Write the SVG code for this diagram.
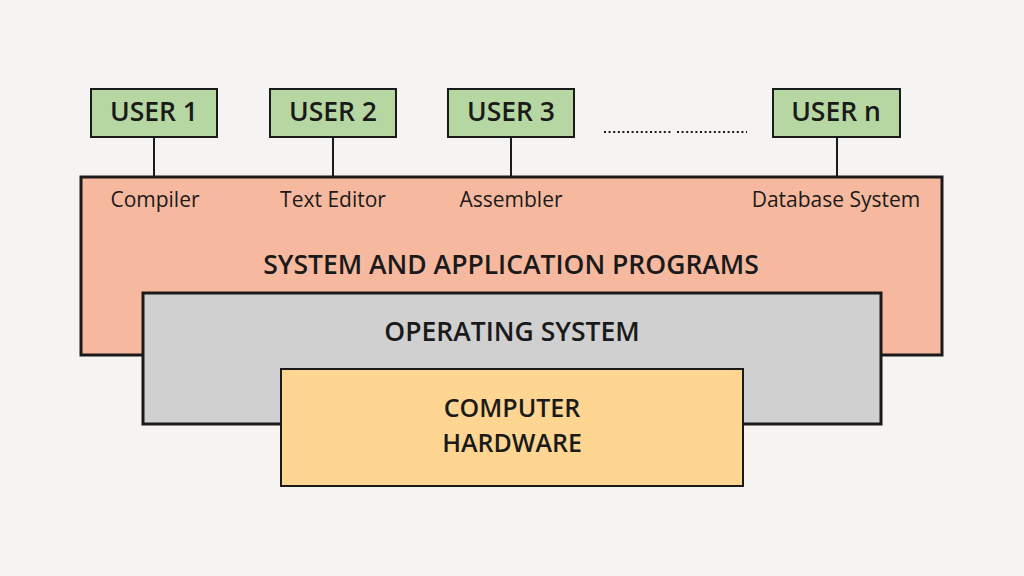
<svg xmlns="http://www.w3.org/2000/svg" width="1024" height="576" viewBox="0 0 1024 576">
<style>
.user{fill:#b6d7a1;stroke:#1a1a1a;stroke-width:2}
.t{font-family:"Open Sans","Liberation Sans",sans-serif;fill:#1a1a1a}
.b{font-weight:600;font-size:26.5px;text-anchor:middle}
.h{font-weight:600;font-size:26.5px;text-anchor:middle}
.hw{font-weight:600;font-size:25px;text-anchor:middle}
.l{font-size:21px;text-anchor:middle}
.conn{stroke:#1a1a1a;stroke-width:2;fill:none}
</style>
<rect width="1024" height="576" fill="#f5f4f2"/>
<g id="connectors">
<line class="conn" x1="154" y1="137" x2="154" y2="177"/>
<line class="conn" x1="333" y1="137" x2="333" y2="177"/>
<line class="conn" x1="511" y1="137" x2="511" y2="177"/>
<line class="conn" x1="837" y1="137" x2="837" y2="177"/>
</g>
<g id="apps">
<rect x="81" y="177" width="861" height="178" fill="#f6b99f" stroke="#1a1a1a" stroke-width="3"/>
<text class="t l" x="155" y="207">Compiler</text>
<text class="t l" x="333" y="207">Text Editor</text>
<text class="t l" x="511" y="207">Assembler</text>
<text class="t l" x="836" y="207">Database System</text>
<text class="t h" x="511" y="274">SYSTEM AND APPLICATION PROGRAMS</text>
</g>
<g id="os">
<rect x="143" y="293" width="738" height="131" fill="#d0d0d0" stroke="#1a1a1a" stroke-width="3"/>
<text class="t h" x="512" y="341">OPERATING SYSTEM</text>
</g>
<g id="hardware">
<rect x="281" y="369" width="462" height="117" fill="#fed691" stroke="#1a1a1a" stroke-width="2"/>
<text class="t hw" x="512" y="417">COMPUTER</text>
<text class="t hw" x="512" y="452">HARDWARE</text>
</g>
<g id="user1"><rect class="user" x="91" y="89" width="126" height="48"/><text class="t b" x="154" y="121">USER 1</text></g>
<g id="user2"><rect class="user" x="270" y="89" width="126" height="48"/><text class="t b" x="333" y="121">USER 2</text></g>
<g id="user3"><rect class="user" x="448" y="89" width="126" height="48"/><text class="t b" x="511" y="121">USER 3</text></g>
<g id="usern"><rect class="user" x="773" y="89" width="127" height="48"/><text class="t b" x="836" y="121">USER n</text></g>
<g id="dots">
<line x1="604" y1="132" x2="673" y2="132" stroke="#1a1a1a" stroke-width="2.2" stroke-dasharray="2 2.6"/>
<line x1="677" y1="132" x2="747" y2="132" stroke="#1a1a1a" stroke-width="2.2" stroke-dasharray="2 2.6"/>
</g>
</svg>
